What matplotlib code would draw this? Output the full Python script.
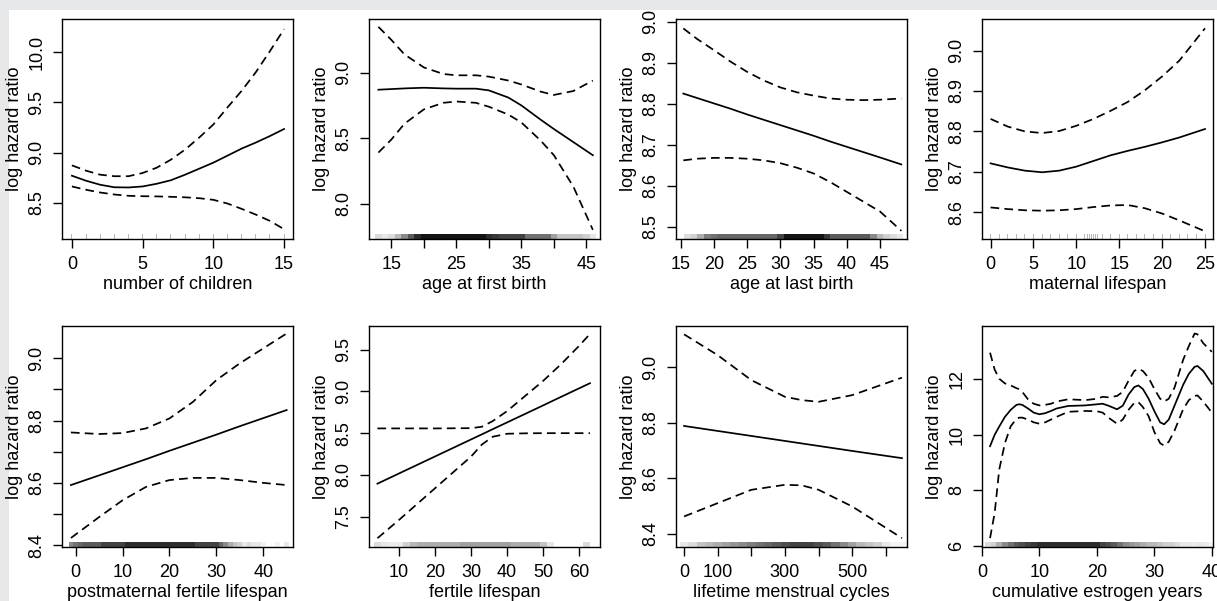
import matplotlib.pyplot as plt
from matplotlib.patches import Rectangle

plt.rcParams['font.family'] = ['Liberation Sans', 'DejaVu Sans']

# --- number of children
children_x = [0, 1, 2, 3, 4, 5, 6, 7, 8, 9, 10, 11, 12, 13, 14, 15]
children_fit = [8.77, 8.72, 8.68, 8.655, 8.653, 8.663, 8.69, 8.725, 8.78, 8.84, 8.9, 8.97, 9.04, 9.1, 9.165, 9.235]
children_up = [8.873, 8.82, 8.78, 8.765, 8.765, 8.797, 8.85, 8.93, 9.03, 9.15, 9.28, 9.45, 9.615, 9.8, 10.01, 10.23]
children_lo = [8.663, 8.63, 8.603, 8.583, 8.57, 8.566, 8.564, 8.56, 8.555, 8.546, 8.53, 8.493, 8.44, 8.383, 8.32, 8.237]
children_rug = [0, 1, 2, 3, 4, 5, 6, 7, 8, 9, 10, 11, 12, 13, 14, 15]
children_rug_shade = [0.3, 0.3, 0.3, 0.3, 0.3, 0.3, 0.3, 0.3, 0.3, 0.3, 0.3, 0.3, 0.3, 0.3, 0.3, 0.3]

# --- age at first birth
first_x = [13, 15, 17, 20, 23, 25, 28, 30, 33, 35, 38, 40, 43, 46]
first_fit = [8.87, 8.875, 8.88, 8.885, 8.88, 8.878, 8.878, 8.865, 8.81, 8.75, 8.64, 8.57, 8.47, 8.37]
first_up = [9.35, 9.25, 9.14, 9.04, 8.99, 8.98, 8.98, 8.97, 8.94, 8.91, 8.855, 8.83, 8.86, 8.94]
first_lo = [8.39, 8.49, 8.61, 8.72, 8.77, 8.78, 8.77, 8.74, 8.68, 8.62, 8.48, 8.37, 8.13, 7.8]
first_rug = [13, 14, 15, 16, 17, 18, 19, 20, 21, 22, 23, 24, 25, 26, 27, 28, 29,
             30, 31, 32, 33, 34, 35, 36, 37, 38, 39, 40, 41, 42, 43, 44, 45, 46]
first_rug_shade = [0.15, 0.1, 0.15, 0.3, 0.5, 0.7, 0.9, 1, 1, 1, 1, 1, 1, 1, 1, 1, 1,
                   0.9, 0.85, 0.8, 0.8, 0.8, 0.8, 0.6, 0.6, 0.6, 0.6, 0.4, 0.25, 0.25, 0.25, 0.25, 0.2, 0.1]

# --- age at last birth
last_x = [15.4, 17.5, 20, 22.5, 25, 27.5, 30, 32.5, 35, 37.5, 40, 42.5, 45, 48.2]
last_fit = [8.825, 8.814, 8.801, 8.788, 8.774, 8.761, 8.748, 8.735, 8.722, 8.708, 8.695, 8.682, 8.669, 8.652]
last_up = [8.984, 8.958, 8.931, 8.903, 8.878, 8.857, 8.84, 8.828, 8.82, 8.813, 8.81, 8.809, 8.81, 8.813]
last_lo = [8.662, 8.666, 8.668, 8.668, 8.666, 8.662, 8.655, 8.644, 8.63, 8.609, 8.585, 8.561, 8.537, 8.49]
last_rug = [16, 17, 18, 19, 20, 21, 22, 23, 24, 25, 26, 27, 28, 29, 30, 31, 32,
            33, 34, 35, 36, 37, 38, 39, 40, 41, 42, 43, 44, 45, 46, 47, 48]
last_rug_shade = [0.15, 0.2, 0.35, 0.55, 0.6, 0.65, 0.65, 0.65, 0.65, 0.65, 0.65, 0.65, 0.65, 0.65, 0.8, 1, 1,
                  1, 1, 1, 1, 0.85, 0.7, 0.7, 0.7, 0.7, 0.7, 0.7, 0.5, 0.3, 0.2, 0.15, 0.1]

# --- maternal lifespan
maternal_x = [0, 2, 4, 6, 8, 10, 12, 14, 16, 18, 20, 22, 25]
maternal_fit = [8.721, 8.711, 8.703, 8.699, 8.703, 8.713, 8.727, 8.741, 8.752, 8.762, 8.773, 8.785, 8.806]
maternal_up = [8.831, 8.812, 8.8, 8.796, 8.801, 8.814, 8.831, 8.851, 8.873, 8.902, 8.936, 8.975, 9.055]
maternal_lo = [8.612, 8.608, 8.605, 8.604, 8.605, 8.608, 8.613, 8.617, 8.618, 8.61, 8.597, 8.58, 8.553]
maternal_rug = [0, 1, 2, 3, 4, 5, 6, 7, 8, 9, 10, 11, 11.25, 11.5, 11.75, 12, 12.25, 12.5,
                13, 14, 15, 16, 17, 18, 19, 20, 21, 22, 23, 24, 25]
maternal_rug_shade = [0.3] * len(maternal_rug)

# --- postmaternal fertile lifespan
post_x = [-1, 5, 10, 15, 20, 25, 30, 35, 40, 45]
post_fit = [8.593, 8.624, 8.65, 8.676, 8.703, 8.729, 8.755, 8.782, 8.808, 8.834]
post_up = [8.762, 8.757, 8.76, 8.775, 8.807, 8.86, 8.93, 8.984, 9.032, 9.08]
post_lo = [8.423, 8.49, 8.544, 8.587, 8.609, 8.616, 8.616, 8.609, 8.6, 8.593]
post_rug = [-1, 0, 1, 2, 3, 4, 5, 6, 7, 8, 9, 10, 11, 12, 13, 14, 15, 16, 17, 18, 19, 20, 21, 22, 23,
            24, 25, 26, 27, 28, 29, 30, 31, 32, 33, 34, 35, 36, 37, 38, 39, 40, 41, 42, 43, 44, 45]
post_rug_shade = [0.5, 0.6, 0.65, 0.7, 0.7, 0.7, 0.7, 0.8, 0.8, 0.8, 0.8, 0.8, 0.9, 0.9, 0.9, 0.9, 0.9,
                  0.9, 0.9, 0.9, 0.9, 0.9, 0.9, 0.9, 0.9, 0.9, 0.9, 0.8, 0.8, 0.8, 0.8, 0.8, 0.65,
                  0.5, 0.35, 0.25, 0.2, 0.1, 0.15, 0.1, 0.1, 0.05, 0.0, 0.0, 0.05, 0.0, 0.1]

# --- fertile lifespan
fertile_x = [4, 10, 20, 30, 33, 36, 40, 45, 50, 55, 60, 63]
fertile_fit = [7.894, 8.017, 8.221, 8.425, 8.486, 8.548, 8.629, 8.731, 8.833, 8.936, 9.038, 9.099]
fertile_up = [8.557, 8.557, 8.557, 8.56, 8.577, 8.645, 8.765, 8.946, 9.127, 9.328, 9.548, 9.69]
fertile_lo = [7.24, 7.46, 7.84, 8.22, 8.364, 8.457, 8.493, 8.498, 8.5, 8.5, 8.5, 8.5]
fertile_rug = [4, 6, 8, 10, 12, 14, 16, 18, 20, 22, 24, 26, 28, 30, 32,
               34, 36, 38, 40, 42, 44, 46, 48, 50, 52, 54, 56, 58, 60, 62]
fertile_rug_shade = [0.15, 0.1, 0.08, 0.08, 0.2, 0.3, 0.35, 0.35, 0.35, 0.35, 0.35, 0.35, 0.4, 0.4, 0.4,
                     0.4, 0.4, 0.4, 0.4, 0.35, 0.35, 0.35, 0.35, 0.25, 0.1, 0.0, 0.0, 0.0, 0.0, 0.15]

# --- lifetime menstrual cycles
cycles_x = [0, 100, 200, 300, 350, 400, 500, 648]
cycles_fit = [8.789, 8.771, 8.753, 8.735, 8.726, 8.717, 8.699, 8.673]
cycles_up = [9.119, 9.044, 8.954, 8.894, 8.882, 8.876, 8.9, 8.963]
cycles_lo = [8.463, 8.511, 8.559, 8.577, 8.575, 8.559, 8.499, 8.385]
cycles_rug = [0, 25, 50, 75, 100, 125, 150, 175, 200, 225, 250, 275, 300, 325,
              350, 375, 400, 425, 450, 475, 500, 525, 550, 575, 600, 625, 650]
cycles_rug_shade = [0.1, 0.15, 0.25, 0.3, 0.35, 0.4, 0.45, 0.5, 0.55, 0.6, 0.65, 0.7, 0.75, 0.8,
                    0.8, 0.8, 0.75, 0.7, 0.6, 0.5, 0.4, 0.3, 0.25, 0.2, 0.1, 0.05, 0.05]

# --- cumulative estrogen years
estro_x = [1.4, 2.2, 3, 4, 5, 6, 6.5, 7, 8, 9, 10, 11, 12, 13, 15, 18, 20, 21, 22, 23.5, 24.5,
           25.5, 26.5, 27.2, 28, 29, 30, 31, 31.7, 32.5, 33.5, 35, 36, 37, 37.5, 38.5, 40]
estro_fit = [9.59, 10.0, 10.3, 10.65, 10.9, 11.08, 11.1, 11.08, 10.95, 10.8, 10.74, 10.78, 10.86, 10.95,
             11.04, 11.06, 11.1, 11.12, 11.05, 10.92, 11.05, 11.45, 11.72, 11.78, 11.65, 11.3, 10.85,
             10.45, 10.38, 10.55, 11.05, 11.8, 12.2, 12.45, 12.48, 12.3, 11.84]
estro_up = [12.96, 12.35, 12.02, 11.85, 11.78, 11.68, 11.64, 11.55, 11.28, 11.12, 11.06, 11.08, 11.12, 11.2,
            11.28, 11.25, 11.3, 11.37, 11.35, 11.4, 11.55, 11.95, 12.3, 12.38, 12.3, 12.05, 11.65,
            11.3, 11.2, 11.3, 11.7, 12.7, 13.2, 13.65, 13.62, 13.3, 12.99]
estro_lo = [6.28, 7.18, 8.75, 9.71, 10.31, 10.58, 10.62, 10.62, 10.55, 10.45, 10.4, 10.45, 10.55, 10.65,
            10.83, 10.86, 10.85, 10.8, 10.62, 10.4, 10.55, 10.9, 11.15, 11.18, 11.0, 10.67, 10.1,
            9.7, 9.61, 9.75, 10.15, 10.92, 11.25, 11.4, 11.42, 11.2, 10.8]
estro_rug = [1, 2, 3, 4, 5, 6, 7, 8, 9, 10, 11, 12, 13, 14, 15, 16, 17, 18, 19, 20,
             21, 22, 23, 24, 25, 26, 27, 28, 29, 30, 31, 32, 33, 34, 35, 36, 37, 38, 39, 40]
estro_rug_shade = [0.15, 0.2, 0.35, 0.5, 0.6, 0.7, 0.75, 0.8, 0.85, 0.9, 0.9, 0.9, 0.9, 0.9, 0.9, 0.9,
                   0.9, 0.9, 0.9, 0.9, 0.8, 0.75, 0.7, 0.6, 0.5, 0.45, 0.4, 0.35, 0.3, 0.3, 0.25, 0.2,
                   0.2, 0.15, 0.1, 0.1, 0.08, 0.1, 0.08, 0.05]

W, H = 1217, 601
FS = 13
fig = plt.figure(figsize=(W / 100, H / 100), dpi=100, facecolor='#e7e8ea')
fig.add_artist(Rectangle((9 / W, 0), 1 - 9 / W, 1 - 10 / H, transform=fig.transFigure,
                         facecolor='white', edgecolor='none', zorder=0))


def panel(left, top, w, h, x, fit, up, lo, rug, rug_shade, rug_w, xlim, ylim,
          xticks, xlabels, yticks, ylabels, xlabel):
    ax = fig.add_axes([left / W, 1 - (top + h) / H, w / W, h / H])
    ax.plot(x, up, color='black', lw=1.25, dashes=(5, 3))
    ax.plot(x, fit, color='black', lw=1.25)
    ax.plot(x, lo, color='black', lw=1.25, dashes=(5, 3))
    # rug of observations along the bottom edge
    rh = 0.022 * (ylim[1] - ylim[0])
    cols = [str(1 - 0.92 * s) for s in rug_shade]
    ax.bar(rug, rh, width=rug_w, bottom=ylim[0], color=cols, linewidth=0, zorder=1)
    ax.set_xlim(xlim)
    ax.set_ylim(ylim)
    ax.set_xticks(xticks)
    ax.set_xticklabels(xlabels)
    ax.set_yticks(yticks)
    ax.set_yticklabels(ylabels, rotation=90, va='center')
    ax.tick_params(direction='out', length=6.5, width=1.0, labelsize=FS, color='black')
    ax.tick_params(axis='x', pad=6)
    ax.tick_params(axis='y', pad=5.5)
    for s in ax.spines.values():
        s.set_linewidth(1.0)
    ax.set_ylabel('log hazard ratio', fontsize=FS)
    ax.set_xlabel(xlabel, fontsize=FS)
    ax.yaxis.set_label_coords(-39 / w, 0.5)
    ax.xaxis.set_label_coords(0.5, -37 / h)
    return ax


cols_px = [62, 369, 676, 982]
bw = 231

panel(cols_px[0], 19, bw, 220, children_x, children_fit, children_up, children_lo,
      children_rug, children_rug_shade, 0.07, (-0.7, 15.63), (8.14, 10.33),
      [0, 5, 10, 15], ['0', '5', '10', '15'],
      [8.5, 9.0, 9.5, 10.0], ['8.5', '9.0', '9.5', '10.0'], 'number of children')

panel(cols_px[1], 19, bw, 220, first_x, first_fit, first_up, first_lo,
      first_rug, first_rug_shade, 1.0, (11.55, 47.1), (7.73, 9.41),
      [15, 20, 25, 30, 35, 40, 45], ['15', '', '25', '', '35', '', '45'],
      [8.0, 8.5, 9.0], ['8.0', '8.5', '9.0'], 'age at first birth')

panel(cols_px[2], 19, bw, 220, last_x, last_fit, last_up, last_lo,
      last_rug, last_rug_shade, 1.0, (14.3, 49.05), (8.47, 9.007),
      [15, 20, 25, 30, 35, 40, 45], ['15', '20', '25', '30', '35', '40', '45'],
      [8.5, 8.6, 8.7, 8.8, 8.9, 9.0], ['8.5', '8.6', '8.7', '8.8', '8.9', '9.0'], 'age at last birth')

panel(cols_px[3], 19, bw, 220, maternal_x, maternal_fit, maternal_up, maternal_lo,
      maternal_rug, maternal_rug_shade, 0.12, (-1.0, 25.93), (8.534, 9.078),
      [0, 5, 10, 15, 20, 25], ['0', '5', '10', '15', '20', '25'],
      [8.6, 8.7, 8.8, 8.9, 9.0], ['8.6', '8.7', '8.8', '8.9', '9.0'], 'maternal lifespan')

panel(cols_px[0], 326, bw, 221, post_x, post_fit, post_up, post_lo,
      post_rug, post_rug_shade, 1.0, (-2.9, 46.35), (8.394, 9.104),
      [0, 10, 20, 30, 40], ['0', '10', '20', '30', '40'],
      [8.4, 8.5, 8.6, 8.7, 8.8, 8.9, 9.0], ['8.4', '', '8.6', '', '8.8', '', '9.0'],
      'postmaternal fertile lifespan')

panel(cols_px[1], 326, bw, 221, fertile_x, fertile_fit, fertile_up, fertile_lo,
      fertile_rug, fertile_rug_shade, 2.0, (1.66, 65.78), (7.135, 9.785),
      [10, 20, 30, 40, 50, 60], ['10', '20', '30', '40', '50', '60'],
      [7.5, 8.0, 8.5, 9.0, 9.5], ['7.5', '8.0', '8.5', '9.0', '9.5'], 'fertile lifespan')

panel(cols_px[2], 326, bw, 221, cycles_x, cycles_fit, cycles_up, cycles_lo,
      cycles_rug, cycles_rug_shade, 25, (-24, 663), (8.353, 9.149),
      [0, 100, 200, 300, 400, 500, 600], ['0', '100', '', '300', '', '500', ''],
      [8.4, 8.6, 8.8, 9.0], ['8.4', '8.6', '8.8', '9.0'], 'lifetime menstrual cycles')

panel(cols_px[3], 326, bw, 221, estro_x, estro_fit, estro_up, estro_lo,
      estro_rug, estro_rug_shade, 1.0, (0, 40.2), (5.96, 13.92),
      [0, 10, 20, 30, 40], ['0', '10', '20', '30', '40'],
      [6, 8, 10, 12], ['6', '8', '10', '12'], 'cumulative estrogen years')

fig.savefig('out.png', dpi=100, facecolor=fig.get_facecolor())
